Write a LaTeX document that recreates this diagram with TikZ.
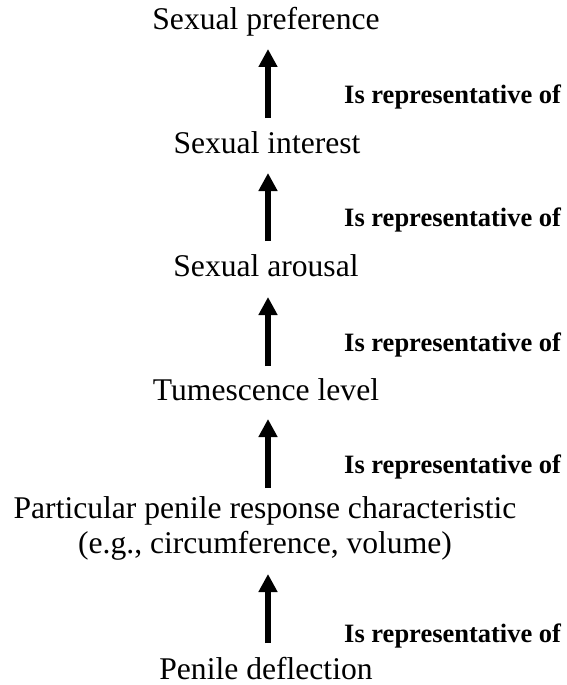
\documentclass[tikz,border=0pt]{standalone}
\usepackage{fontspec}
\setmainfont{Liberation Serif}
\usetikzlibrary{arrows.meta}
\tikzset{
  concept/.style={anchor=base, inner sep=0pt, font=\fontsize{31.6}{35}\selectfont, align=center},
  relation/.style={anchor=base west, inner sep=0pt, font=\fontsize{26.5}{30}\selectfont\bfseries},
  uparrow/.style={line width=6pt, -{Triangle[width=18pt,length=18pt]}}
}
\begin{document}
\begin{tikzpicture}[x=1pt,y=-1pt]
\useasboundingbox (0,0) rectangle (567,685);
\node[concept] (pref) at (266,30) {Sexual preference};
\node[concept] (inter) at (267,153) {Sexual interest};
\node[concept] (arous) at (266,276) {Sexual arousal};
\node[concept] (tumes) at (266,400) {Tumescence level};
\node[concept] (partic) at (265,553) {Particular penile response characteristic\\(e.g., circumference, volume)};
\node[concept] (defl) at (266,679) {Penile deflection};
\node[relation] (r1) at (344,103) {Is representative of};
\node[relation] (r2) at (344,226) {Is representative of};
\node[relation] (r3) at (344,351) {Is representative of};
\node[relation] (r4) at (344,473) {Is representative of};
\node[relation] (r5) at (344,642) {Is representative of};
\coordinate (a1s) at (268,118); \coordinate (a1e) at (268,49);
\coordinate (a2s) at (268,241); \coordinate (a2e) at (268,173);
\coordinate (a3s) at (268,366); \coordinate (a3e) at (268,297);
\coordinate (a4s) at (268,488); \coordinate (a4e) at (268,419);
\coordinate (a5s) at (268,643); \coordinate (a5e) at (268,574);
\draw[uparrow] (a1s) -- (a1e);
\draw[uparrow] (a2s) -- (a2e);
\draw[uparrow] (a3s) -- (a3e);
\draw[uparrow] (a4s) -- (a4e);
\draw[uparrow] (a5s) -- (a5e);
\end{tikzpicture}
\end{document}
